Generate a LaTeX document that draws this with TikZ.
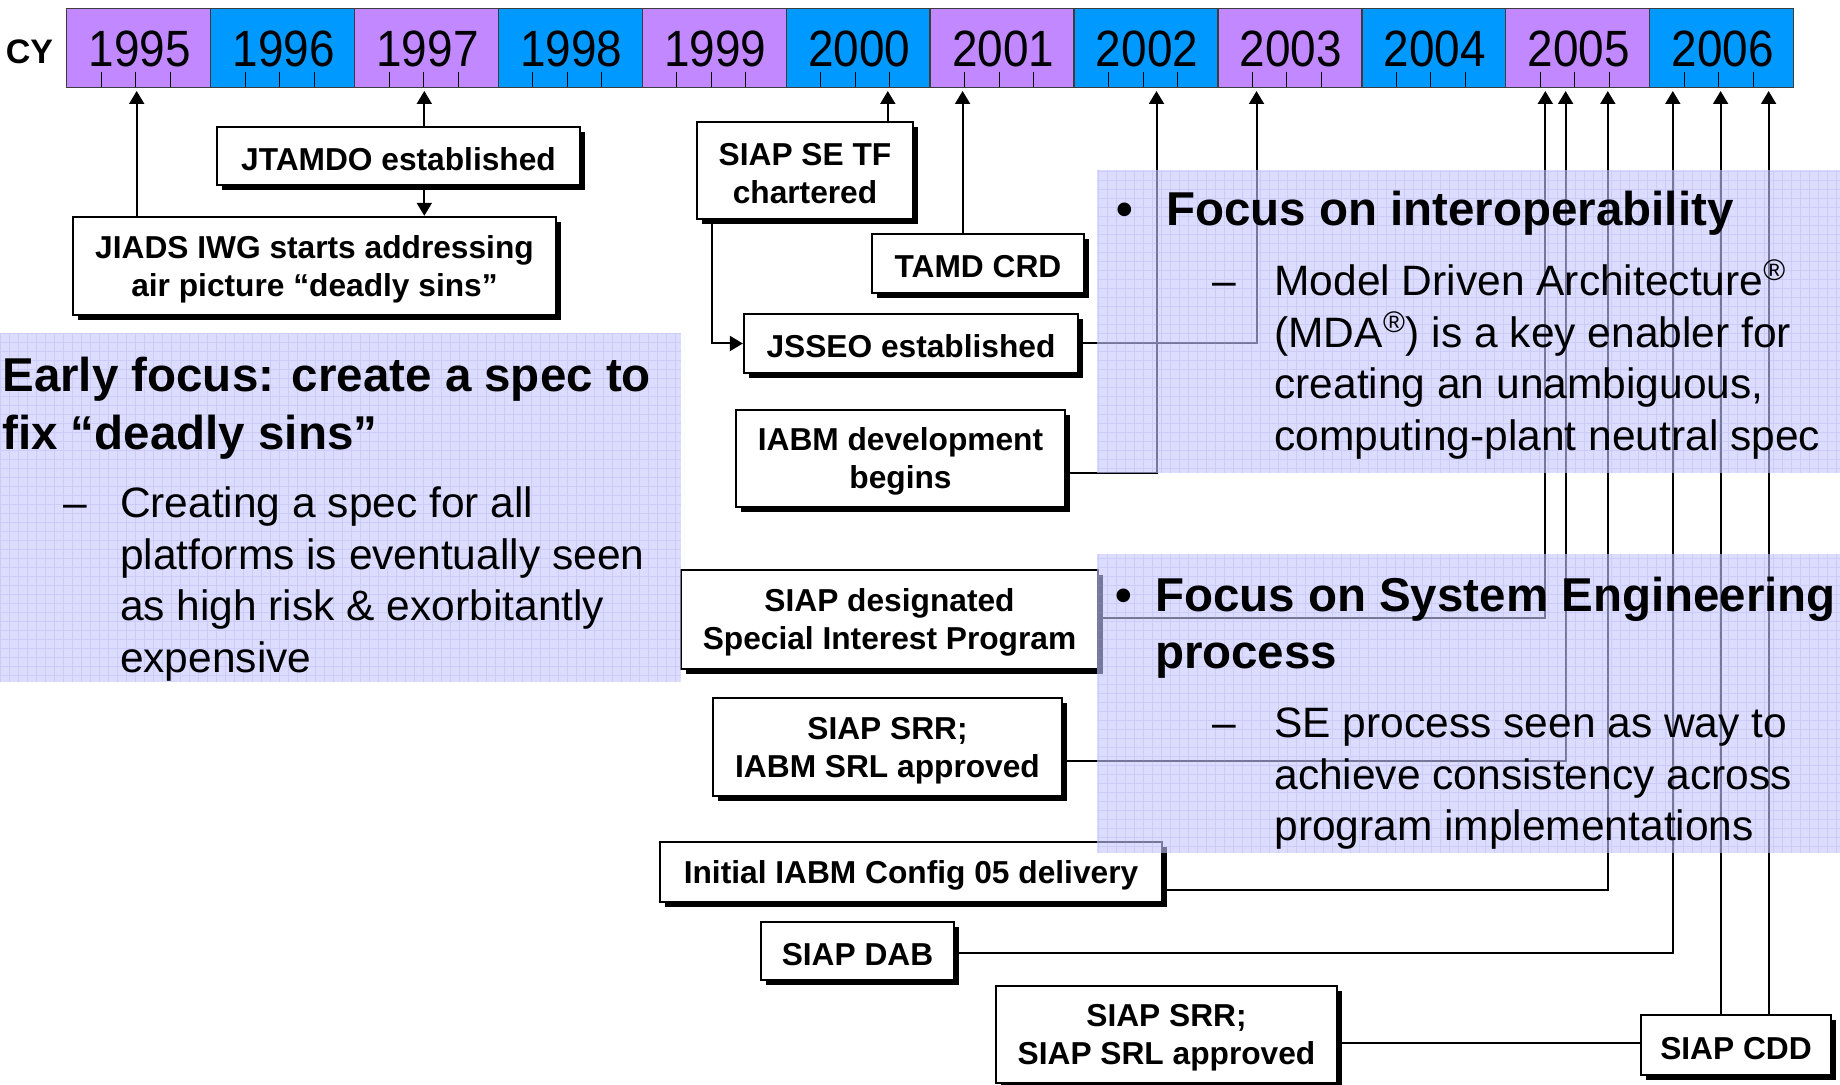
\documentclass[tikz,border=0pt]{standalone}
\usepackage{fontspec}
\setmainfont{Liberation Sans}
\newfontfamily\yearfont[FakeStretch=0.9]{Liberation Sans}
\usetikzlibrary{arrows.meta,shadows}
\definecolor{ypurple}{RGB}{194,136,255}
\definecolor{yblue}{RGB}{0,153,255}
\definecolor{panelc}{RGB}{198,198,255}
\definecolor{gridc}{RGB}{150,150,235}
\definecolor{barline}{RGB}{60,60,60}
\newcommand\tup{\rule{0pt}{14.6pt}}
\begin{document}
\begin{tikzpicture}[x=0.5pt,y=-0.5pt,
  evbox/.style={draw=black, line width=1.2pt, fill=white, inner sep=0pt, align=center,
     font=\fontsize{15.85pt}{19pt}\selectfont\bfseries,
     drop shadow={shadow xshift=2.6pt, shadow yshift=-2.6pt, opacity=1, fill=black}},
  conn/.style={line width=1pt, draw=black},
  arr/.style={conn, -{Triangle[length=6.5pt,width=7.5pt]}},
  panel/.style={fill=panelc, fill opacity=0.6, draw=none},
  gridlines/.style={draw=gridc, line width=0.25pt, opacity=0.22},
  head/.style={anchor=base west, inner sep=0pt, font=\fontsize{23.75pt}{27pt}\selectfont\bfseries},
  headbul/.style={anchor=base, inner sep=0pt, font=\fontsize{23.75pt}{27pt}\selectfont\bfseries},
  sub/.style={anchor=base west, inner sep=0pt, font=\fontsize{21.25pt}{24pt}\selectfont},
  subdash/.style={anchor=base, inner sep=0pt, font=\fontsize{21.25pt}{24pt}\selectfont},
  yeartxt/.style={anchor=base, inner sep=0pt, font=\yearfont\fontsize{25.5pt}{28pt}\selectfont},
  cell/.style={draw=barline, line width=0.7pt},
  tickline/.style={draw=black, line width=0.5pt}
]
\useasboundingbox[fill=white] (0,0) rectangle (1840,1085);

% ---- timeline bar
\node[anchor=base, inner sep=0pt, font=\fontsize{17pt}{20pt}\selectfont\bfseries] (cy) at (29.5,64) {CY};
\foreach \yr/\col [count=\i from 0] in {1995/ypurple,1996/yblue,1997/ypurple,1998/yblue,1999/ypurple,2000/yblue,2001/ypurple,2002/yblue,2003/ypurple,2004/yblue,2005/ypurple,2006/yblue}{
  \pgfmathsetmacro\xl{66.7+143.9*\i}
  \pgfmathsetmacro\xr{\xl+143.9}
  \draw[cell, fill=\col] (\xl,8.3) rectangle (\xr,87.3);
  \foreach \o in {34.5,69,103.5}{\draw[tickline] (\xl+\o,71.7) -- (\xl+\o,87.3);}
  \node[yeartxt] (lab\yr) at (\xl+73,67) {\yr};
}

% ---- arrow targets under the bar
\coordinate (t95) at (136.7,91);
\coordinate (t97) at (424.3,91);
\coordinate (t00) at (887.8,91);
\coordinate (t01) at (962.6,91);
\coordinate (t02) at (1156.5,91);
\coordinate (t03) at (1256.5,91);
\coordinate (t05a) at (1545.3,91);
\coordinate (t05b) at (1565.6,91);
\coordinate (t05c) at (1607.8,91);
\coordinate (t06a) at (1672.8,91);
\coordinate (t06b) at (1720.6,91);
\coordinate (t06c) at (1768.6,91);

% ---- event boxes
\node[evbox, minimum width=181.5pt, minimum height=29pt] (jtamdo) at (398.5,156) {\tup JTAMDO established};
\node[evbox, minimum width=241.5pt, minimum height=49pt] (jiads) at (314.5,266) {\tup JIADS IWG starts addressing\\air picture “deadly sins”};
\node[evbox, minimum width=108pt, minimum height=48.5pt] (siapse) at (805,170.5) {\tup SIAP SE TF\\chartered};
\node[evbox, minimum width=106pt, minimum height=29.5pt] (tamd) at (978,263.5) {\tup TAMD CRD};
\node[evbox, minimum width=167pt, minimum height=29.5pt] (jsseo) at (911,343.5) {\tup JSSEO established};
\node[evbox, minimum width=164.5pt, minimum height=48.5pt] (iabmdev) at (900.5,458.5) {\tup IABM development\\begins};
\node[evbox, minimum width=208.5pt, minimum height=49.5pt] (siapdes) at (889.5,619.5) {\tup SIAP designated\\Special Interest Program};
\node[evbox, minimum width=174.5pt, minimum height=49pt] (srrone) at (887.5,747) {\tup SIAP SRR;\\IABM SRL approved};
\node[evbox, minimum width=251pt, minimum height=30pt] (initial) at (911,872) {\tup Initial IABM Config 05 delivery};
\node[evbox, minimum width=96.5pt, minimum height=29pt] (dab) at (857.5,951) {\tup SIAP DAB};
\node[evbox, minimum width=170.5pt, minimum height=48.5pt] (srrtwo) at (1166.5,1034.5) {\tup SIAP SRR;\\SIAP SRL approved};
\node[evbox, minimum width=95pt, minimum height=30pt] (cdd) at (1736,1045) {\tup SIAP CDD};

% ---- connectors
\draw[arr] (jiads.north -| t95) -- (t95);
\draw[arr] (jtamdo.north -| t97) -- (t97);
\draw[arr] (jtamdo.south -| t97) -- (jiads.north -| t97);
\draw[arr] (siapse.north -| t00) -- (t00);
\draw[arr] ([xshift=7.85pt]siapse.south west) |- (jsseo.west);
\draw[arr] (tamd.north -| t01) -- (t01);
\draw[arr] (jsseo.east) -| (t03);
\draw[arr] ([yshift=-7.4pt]iabmdev.east) -| (t02);
\draw[arr] ([yshift=1pt]siapdes.east) -| (t05a);
\draw[arr] ([yshift=-7pt]srrone.east) -| (t05b);
\draw[arr] ([yshift=-9pt]initial.east) -| (t05c);
\draw[arr] ([yshift=-1.1pt]dab.east) -| (t06a);
\draw[conn] ([yshift=-4pt]srrtwo.east) -- ([yshift=-4pt]srrtwo.east -| cdd.west);
\draw[arr] (cdd.north -| t06b) -- (t06b);
\draw[arr] (cdd.north -| t06c) -- (t06c);

% ---- translucent panels
\fill[panel] (1097,170) rectangle (1840,473);
\fill[panel] (1097,554) rectangle (1840,853);
\fill[panel] (0,333) rectangle (681,682);
\begin{scope}
  \clip (1097,170) rectangle (1840,473);
  \draw[gridlines, step=4.5pt] (1097,170) grid (1840,473);
\end{scope}
\begin{scope}
  \clip (1097,554) rectangle (1840,853);
  \draw[gridlines, step=4.5pt] (1097,554) grid (1840,853);
\end{scope}
\begin{scope}
  \clip (0,333) rectangle (681,682);
  \draw[gridlines, step=4.5pt] (0,333) grid (681,682);
\end{scope}

% ---- panel 1 text
\node[headbul] (bulone) at (1125,226) {•};
\node[head] (hone) at (1165.6,226) {Focus on interoperability};
\node[subdash] (dashone) at (1224,295.5) {–};
\node[sub] (sonea) at (1274,295.5) {Model Driven Architecture\textsuperscript{®}};
\node[sub] (soneb) at (1274,347.1) {(MDA\textsuperscript{®}) is a key enabler for};
\node[sub] (sonec) at (1274,398.7) {creating an unambiguous,};
\node[sub] (soned) at (1274,450.3) {computing-plant neutral spec};

% ---- panel 2 text
\node[headbul] (bultwo) at (1124,611.2) {•};
\node[head] (htwoa) at (1154.6,611.2) {Focus on System Engineering};
\node[head] (htwob) at (1154.6,668.8) {process};
\node[subdash] (dashtwo) at (1224,737.5) {–};
\node[sub] (stwoa) at (1274,737.5) {SE process seen as way to};
\node[sub] (stwob) at (1274,789.1) {achieve consistency across};
\node[sub] (stwoc) at (1274,840.7) {program implementations};

% ---- panel 3 text
\node[head] (hthreea) at (2,391.7) {Early focus: create a spec to};
\node[head] (hthreeb) at (2,449.3) {fix “deadly sins”};
\node[subdash] (dashthree) at (75.5,517.5) {–};
\node[sub] (sthreea) at (119.6,517.5) {Creating a spec for all};
\node[sub] (sthreeb) at (119.6,569.1) {platforms is eventually seen};
\node[sub] (sthreec) at (119.6,620.7) {as high risk \& exorbitantly};
\node[sub] (sthreed) at (119.6,672.3) {expensive};
\end{tikzpicture}
\end{document}
